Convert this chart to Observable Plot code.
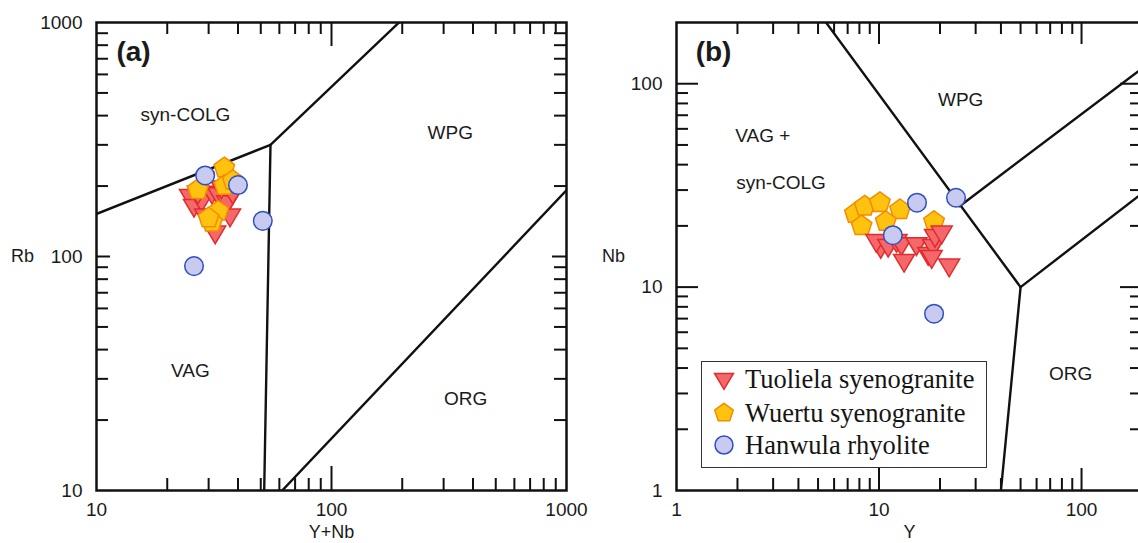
<!DOCTYPE html>
<html><head><meta charset="utf-8">
<script src="https://cdn.jsdelivr.net/npm/d3@7"></script>
<script src="https://cdn.jsdelivr.net/npm/@observablehq/plot@0.6"></script>
<style>
html,body{margin:0;padding:0;background:#fff;overflow:hidden;}
#wrap{position:relative;width:1138px;height:543px;overflow:hidden;font-family:"Liberation Sans",Arial,sans-serif;}
#pa{position:absolute;left:0;top:0;width:600px;height:543px;}
#pb{position:absolute;left:600px;top:0;width:600px;height:543px;}
#pa svg,#pb svg{max-width:none;display:block;}
#legend{position:absolute;left:701px;top:361px;width:286px;height:107px;border:1.5px solid #333;background:#fff;font-family:"Liberation Serif","Times New Roman",serif;font-size:26.5px;color:#151515;box-sizing:border-box;}
.row{position:absolute;left:10px;height:32px;display:flex;align-items:center;white-space:nowrap;}
.row svg{margin-right:9px;}
</style></head>
<body><div id="wrap"><div id="pa"></div><div id="pb"></div><div id="legend"></div></div>
<script>
// ---------- data ----------
// Panel (a): [Y+Nb, Rb]
const tuolielaA = [[25,182],[26,165],[28,174],[31,188],[33,185],[37,179],[36,171],[38,188],[32,127],[37,150],[27,188],[34,198],[29,150]];
const wuertuA   = [[35,239],[27,193],[35,201],[38,211],[33,156],[31,140],[30,146]];
const hanwulaA  = [[29,222],[40,202],[51,142],[26,91]];
// Panel (b): [Y, Nb]
const tuolielaB = [[10.2,15.8],[9.7,16.9],[11.1,16.0],[12.2,16.9],[12.9,16.3],[13.3,13.5],[15.3,16.3],[17.5,14.6],[18.5,16.0],[18.9,17.9],[20.4,18.6],[22.2,12.8],[18.2,14.1]];
const wuertuB   = [[7.6,23],[8.5,25],[10.1,26],[12.7,24],[8.2,20],[10.8,21],[18.7,21]];
const hanwulaB  = [[15.4,26],[24,27.5],[11.7,18],[18.7,7.4]];

// discrimination boundaries (Pearce et al., 1984)
const boundsA = [
  [[2,80],[55,300]],
  [[55,300],[400,2000]],
  [[55,300],[51.5,8]],
  [[50,8],[2000,400]]
];
const boundsB = [
  [[1,2000],[50,10]],
  [[50,10],[40,1]],
  [[50,10],[1000,100]],
  [[25,25],[1000,400]]
];

// field labels [x, y, text, anchor]
const labelsA = [[23.9,401,"syn-COLG","middle"],[320,339,"WPG","middle"],[25.1,32.6,"VAG","middle"],[372,24.7,"ORG","middle"]];
const labelsB = [[25.3,83.3,"WPG","middle"],[1.95,55.3,"VAG +","start"],[1.97,32.7,"syn-COLG","start"],[88.3,3.75,"ORG","middle"]];

// axis ticks
const majorTicksA = [10,100,1000];
const minorTicksA = [20,30,40,50,60,70,80,90,200,300,400,500,600,700,800,900];
const majorTicksB = [1,10,100];
const minorTicksB = [2,3,4,5,6,7,8,9,20,30,40,50,60,70,80,90];

const series = [
  {name:"Tuoliela syenogranite", fill:"#F4686C", stroke:"#E22B2B"},
  {name:"Wuertu syenogranite",   fill:"#FFC20F", stroke:"#F28C00"},
  {name:"Hanwula rhyolite",      fill:"#C8CAF0", stroke:"#2F4FC0"}
];

// ---------- symbols ----------
const triDown = {draw(ctx, size){ const r = Math.sqrt(size/Math.PI);
  ctx.moveTo(-r*1.05,-r*0.62); ctx.lineTo(r*1.05,-r*0.62); ctx.lineTo(0,r*1.15); ctx.closePath(); }};
const pentagon = {draw(ctx, size){ const r = Math.sqrt(size/Math.PI)*1.08;
  for(let k=0;k<5;k++){ const a=-Math.PI/2+k*2*Math.PI/5; const px=r*Math.cos(a), py=r*Math.sin(a);
    if(k) ctx.lineTo(px,py); else ctx.moveTo(px,py);} ctx.closePath(); }};

const font = '"Liberation Sans", Arial, sans-serif';
const ink = "#111";

function frameTicks(lo, hi, minor, major, lenMinorX, lenMajorX, lenMinorY, lenMajorY){
  const sw = 2;
  return [
    Plot.ruleX(minor, {x:d=>d, y1:lo, y2:lo, insetTop:-lenMinorX, stroke:ink, strokeWidth:sw}),
    Plot.ruleX(major, {x:d=>d, y1:lo, y2:lo, insetTop:-lenMajorX, stroke:ink, strokeWidth:sw}),
    Plot.ruleX(minor, {x:d=>d, y1:hi, y2:hi, insetBottom:-lenMinorX, stroke:ink, strokeWidth:sw}),
    Plot.ruleX(major, {x:d=>d, y1:hi, y2:hi, insetBottom:-lenMajorX, stroke:ink, strokeWidth:sw}),
    Plot.ruleY(minor, {y:d=>d, x1:lo, x2:lo, insetRight:-lenMinorY, stroke:ink, strokeWidth:sw}),
    Plot.ruleY(major, {y:d=>d, x1:lo, x2:lo, insetRight:-lenMajorY, stroke:ink, strokeWidth:sw}),
    Plot.ruleY(minor, {y:d=>d, x1:hi, x2:hi, insetLeft:-lenMinorY, stroke:ink, strokeWidth:sw}),
    Plot.ruleY(major, {y:d=>d, x1:hi, x2:hi, insetLeft:-lenMajorY, stroke:ink, strokeWidth:sw})
  ];
}

function dots(data, s, sym, r){
  return Plot.dot(data, {x:d=>d[0], y:d=>d[1], symbol:sym, r, fill:s.fill, stroke:s.stroke, strokeWidth:1.5});
}

function boundaryMarks(bounds){
  return bounds.map(seg => Plot.line(seg, {x:d=>d[0], y:d=>d[1], stroke:ink, strokeWidth:2.4, clip:true}));
}

function fieldLabels(labels){
  return labels.map(l => Plot.text([l], {x:d=>d[0], y:d=>d[1], text:d=>d[2], textAnchor:l[3], fontSize:19, fill:"#1a1a1a"}));
}

function panelText(txt, frameAnchor, dx, dy, extra){
  return Plot.text([txt], {text:d=>d, frameAnchor, dx, dy, textAnchor:"middle", lineAnchor:"middle", fontSize:18, ...extra});
}

// ---------- panel (a) ----------
const pa = Plot.plot({
  width:600, height:543,
  marginLeft:96, marginRight:34, marginTop:22, marginBottom:53,
  style:{fontFamily:font, fontSize:"19px", color:"#1a1a1a", background:"transparent"},
  x:{type:"log", domain:[10,1000]},
  y:{type:"log", domain:[10,1000]},
  marks:[
    ...boundaryMarks(boundsA),
    ...frameTicks(10,1000,minorTicksA,[100],12,24,12,14),
    Plot.frame({stroke:ink, strokeWidth:2.5}),
    ...fieldLabels(labelsA),
    dots(tuolielaA, series[0], triDown, 10),
    dots(wuertuA, series[1], pentagon, 10),
    dots(hanwulaA, series[2], "circle", 9.3),
    Plot.axisX({ticks:majorTicksA, tickSize:0, tickPadding:12, tickFormat:d=>String(d), label:null, fontSize:19}),
    Plot.axisY({ticks:majorTicksA, tickSize:0, tickPadding:14, tickFormat:d=>String(d), label:null, fontSize:19}),
    panelText("Y+Nb", "bottom", 0, 42),
    panelText("Rb", "left", -74, 0),
    panelText("(a)", "top-left", 37, 30, {fontSize:28, fontWeight:"bold"})
  ]
});
document.getElementById("pa").append(pa);

// ---------- panel (b) ----------
const pb = Plot.plot({
  width:600, height:543,
  marginLeft:76, marginRight:58, marginTop:22, marginBottom:53,
  style:{fontFamily:font, fontSize:"19px", color:"#1a1a1a", background:"transparent"},
  x:{type:"log", domain:[1,200]},
  y:{type:"log", domain:[1,200]},
  marks:[
    ...boundaryMarks(boundsB),
    ...frameTicks(1,200,minorTicksB,[10,100],12,22,12,22),
    Plot.frame({stroke:ink, strokeWidth:2.5}),
    ...fieldLabels(labelsB),
    dots(wuertuB, series[1], pentagon, 10),
    dots(tuolielaB, series[0], triDown, 10),
    dots(hanwulaB, series[2], "circle", 9.3),
    Plot.axisX({ticks:majorTicksB, tickSize:0, tickPadding:12, tickFormat:d=>String(d), label:null, fontSize:19}),
    Plot.axisY({ticks:majorTicksB, tickSize:0, tickPadding:14, tickFormat:d=>String(d), label:null, fontSize:19}),
    panelText("Y", "bottom", 0, 42),
    panelText("Nb", "left", -63, 0),
    panelText("(b)", "top-left", 37, 30, {fontSize:28, fontWeight:"bold"})
  ]
});
document.getElementById("pb").append(pb);

// ---------- legend ----------
const legend = document.getElementById("legend");
const syms = [triDown, pentagon, d3.symbolCircle];
const rowTops = [1, 35, 67];
series.forEach((s,i) => {
  const row = document.createElement("div");
  row.className = "row"; row.style.top = rowTops[i] + "px";
  const path = d3.symbol(syms[i], Math.PI*9*9)();
  row.innerHTML = `<svg width="24" height="24" viewBox="-12 -12 24 24"><path d="${path}" fill="${s.fill}" stroke="${s.stroke}" stroke-width="1.5"/></svg><span>${s.name}</span>`;
  legend.append(row);
});
</script>
</body></html>
